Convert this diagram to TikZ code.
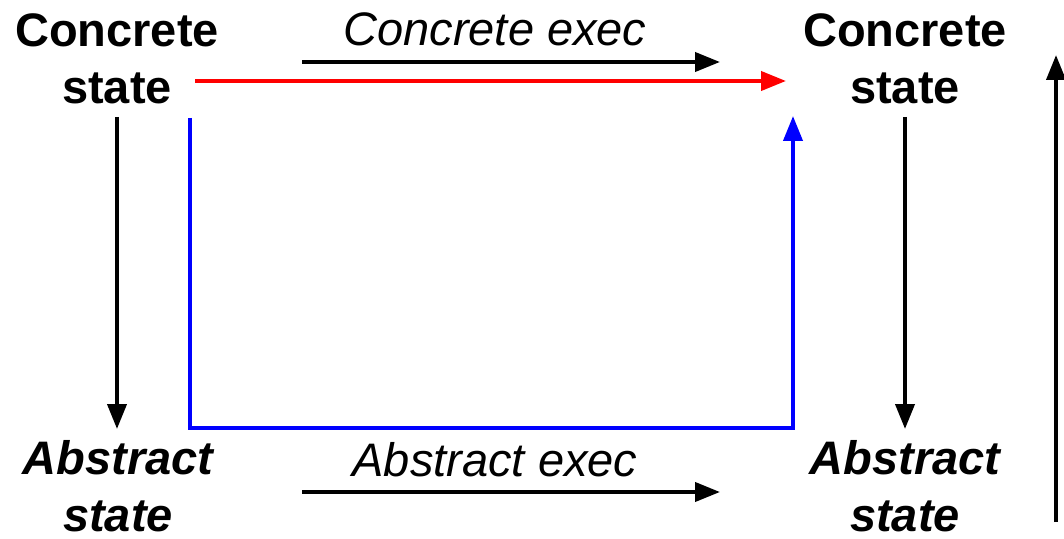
\documentclass[tikz,border=0pt]{standalone}
\usepackage{fontspec}
\setmainfont{Liberation Sans}
\usetikzlibrary{arrows.meta}
\begin{document}
\begin{tikzpicture}[x=0.5pt,y=-0.5pt,
  lbl/.style={font=\fontsize{23.5}{28.5}\selectfont\bfseries, align=center, inner sep=0pt, anchor=base},
  albl/.style={font=\fontsize{23.5}{28.5}\selectfont\bfseries\itshape, align=center, inner sep=0pt, anchor=base},
  exl/.style={font=\fontsize{23.5}{28.5}\selectfont\itshape, inner sep=0pt, anchor=base},
  arr/.style={line width=2pt, -{Triangle[length=12.5pt,width=9.5pt]}},
  every path/.style={line cap=butt}]
\useasboundingbox (0,0) rectangle (1064,539);
% labels
\node[lbl] (cs1) at (117,104) {Concrete\\state};
\node[lbl] (cs2) at (905,104) {Concrete\\state};
\node[albl] (as1) at (118,531) {Abstract\\state};
\node[albl] (as2) at (905,531) {Abstract\\state};
\node[exl] (ce) at (495,46) {Concrete exec};
\node[exl] (ae) at (495,476) {Abstract exec};
% endpoints
\coordinate (ceS) at (302,62);  \coordinate (ceE) at (720,62);
\coordinate (aeS) at (302,492); \coordinate (aeE) at (720,492);
\coordinate (rS) at (195,81);   \coordinate (rE) at (786,81);
\coordinate (lS) at (117,117);  \coordinate (lE) at (117,429);
\coordinate (r2S) at (905,117); \coordinate (r2E) at (905,429);
\coordinate (bS) at (190,118);  \coordinate (bE) at (793,116);
\coordinate (bL) at (190,428);  \coordinate (bR) at (793,428);
\coordinate (fS) at (1056,522); \coordinate (fE) at (1056,55);
% arrows
\draw[arr] (ceS) -- (ceE);
\draw[arr] (aeS) -- (aeE);
\draw[arr, red] (rS) -- (rE);
\draw[arr] (lS) -- (lE);
\draw[arr] (r2S) -- (r2E);
\draw[arr, blue] (bS) -- (bL) -- (bR) -- (bE);
\draw[arr] (fS) -- (fE);
\end{tikzpicture}
\end{document}
